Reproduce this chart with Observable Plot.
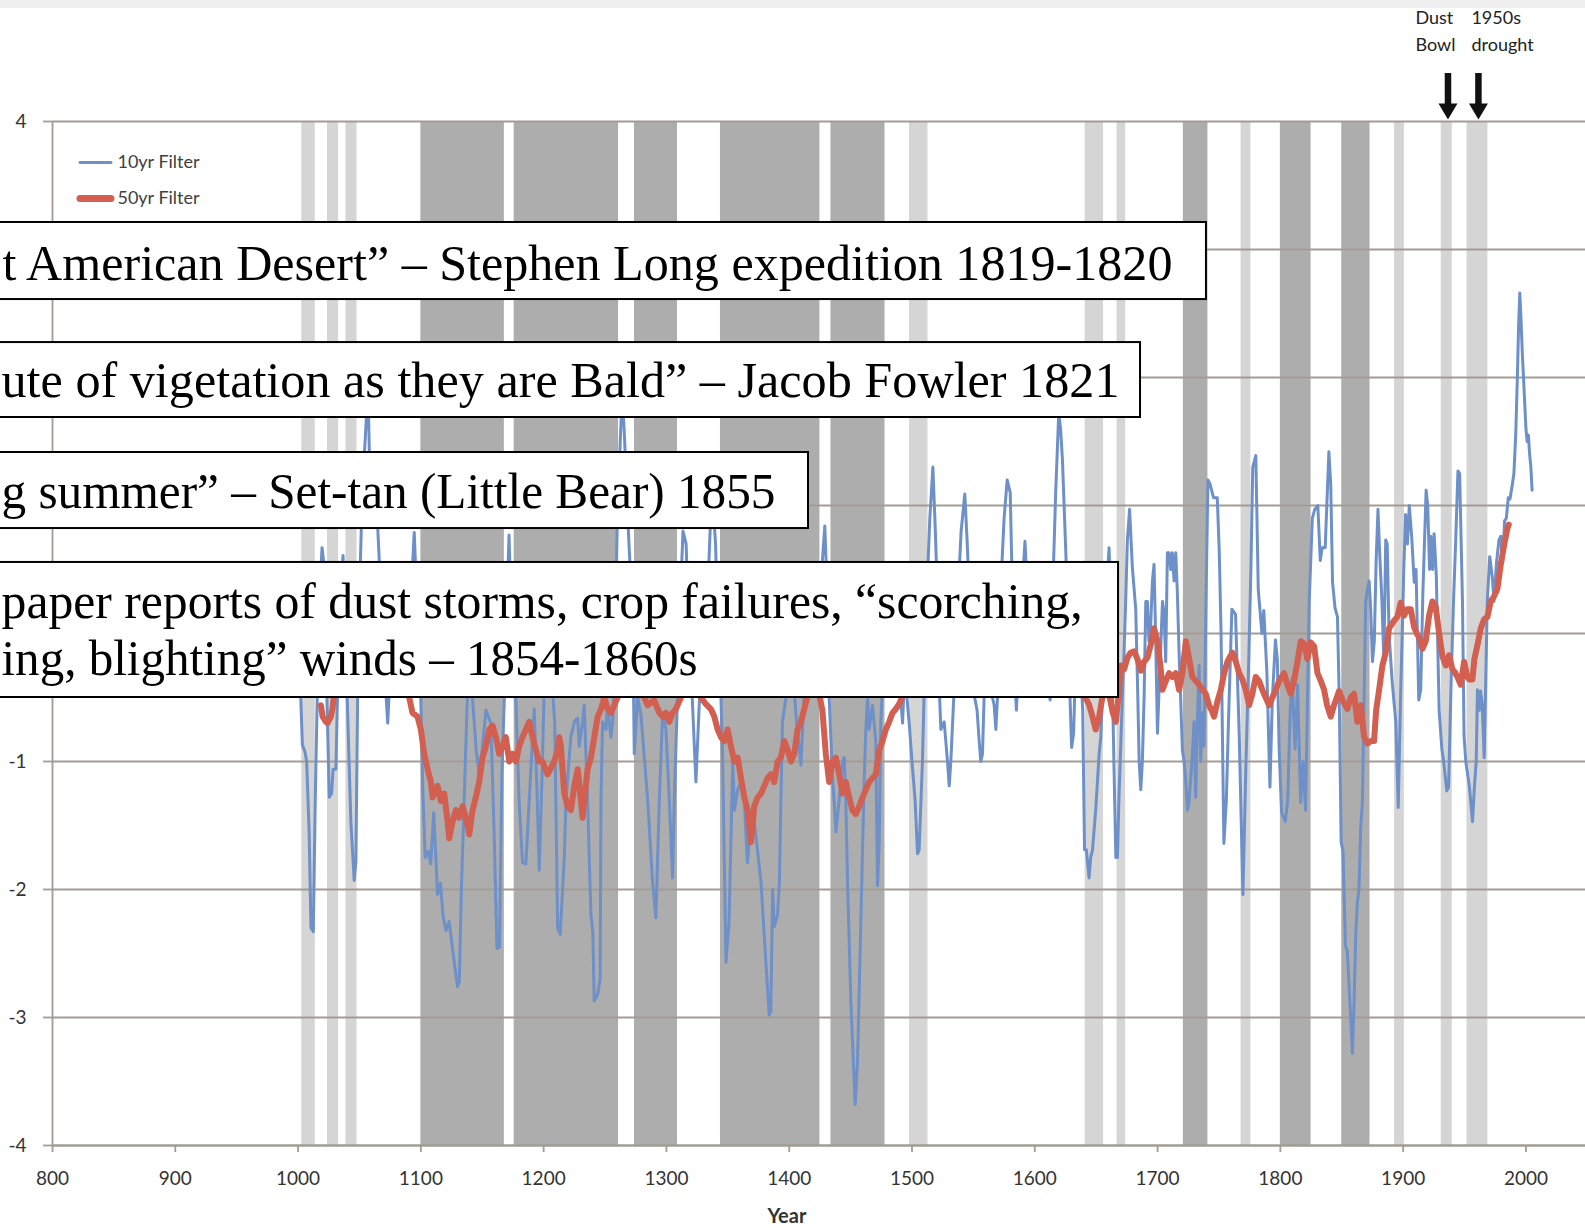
<!DOCTYPE html>
<html>
<head>
<meta charset="utf-8">
<script src="https://cdn.jsdelivr.net/npm/d3@7"></script>
<script src="https://cdn.jsdelivr.net/npm/@observablehq/plot@0.6"></script>
<style>
html, body { margin: 0; padding: 0; background: #fff; overflow: hidden; }
#wrap { position: relative; width: 1585px; height: 1228px; overflow: hidden; background: #fff; }
#topstrip { position: absolute; left: 0; top: 0; width: 1585px; height: 8px; background: #efefef; }
#wrap svg { display: block; }
</style>
</head>
<body>
<div id="wrap"><div id="chart"></div><div id="topstrip"></div></div>
<script>
// ---------------- data ----------------
const filter10yr = [
[1000,0.3],[1002,-0.45],[1003.5,-0.87],[1005.5,-0.92],[1007,-1.0],[1009,-1.55],[1010.5,-2.3],[1012.4,-2.33],[1014,-1.3],[1016,-0.3],[1018,0.4],[1019.5,0.67],[1021,0.55],[1023,-0.3],[1025.4,-1.28],[1027.3,-1.25],[1028.5,-1.06],[1030.8,-1.06],[1032.5,-0.3],[1034.5,0.3],[1036.6,0.61],[1038,0.2],[1040.3,-0.6],[1043,-1.47],[1045.7,-1.93],[1047.1,-1.78],[1048.5,-0.5],[1050,0.3],[1052,1.0],[1054,1.4],[1056,1.75],[1057,1.9],[1058.5,1.2],[1060,0.9],[1062,1.2],[1064,1.0],[1066,0.6],[1068,0.0],[1070.5,-0.3],[1073,-0.7],[1075,-0.3],[1078,0.3],[1081,0.1],[1084,-0.2],[1087,0.2],[1090,0.0],[1092.5,0.4],[1094.6,0.79],[1097,0.2],[1099.5,-0.3],
[1101.5,-1.2],[1103.5,-1.75],[1106,-1.7],[1108,-1.8],[1110.5,-1.4],[1113.6,-2.04],[1116,-1.95],[1118,-2.2],[1120.4,-2.32],[1123,-2.25],[1125,-2.4],[1127.2,-2.57],[1129.9,-2.76],[1131.3,-2.72],[1133,-2.0],[1135.3,-1.3],[1137.5,-0.6],[1140,0.1],[1142,-0.5],[1145,-0.9],[1147.5,-1.1],[1150,-0.9],[1153,-0.6],[1157,-0.7],[1159.5,-1.5],[1162,-2.46],[1164,-2.45],[1166,-1.1],[1168,-0.5],[1170,0.2],[1171.8,0.77],[1173.5,0.2],[1175.5,-0.3],[1177.4,-0.53],[1180,-1.31],[1182.8,-1.79],[1185.5,-1.8],[1189.6,-1.06],[1192.3,-0.59],[1194.5,-1.2],[1196.4,-1.85],[1199,-1.0],
[1201,-0.2],[1204,0.2],[1207,-0.4],[1209,-0.7],[1211.4,-2.3],[1213.5,-2.35],[1216.8,-1.75],[1218.2,-1.3],[1222.2,-0.8],[1223.6,-0.75],[1225,-0.69],[1227.7,-0.66],[1229,-0.88],[1231.7,-0.69],[1233,-0.56],[1235.8,-1.3],[1238.5,-2.2],[1240,-2.32],[1241.2,-2.87],[1244,-2.82],[1246,-2.7],[1246.7,-1.3],[1248,-0.69],[1250.7,-0.75],[1252,-0.56],[1254.8,-0.81],[1256.2,-0.69],[1257.5,-0.4],[1260,0.9],[1262,1.4],[1264,1.9],[1266,1.5],[1268,1.0],[1270,0.6],[1272.4,0.2],[1273.8,-0.94],[1276.5,-0.5],[1279.2,-0.63],[1284.7,-1.3],[1288.7,-1.94],[1291.4,-2.22],[1294.2,-1.3],[1296.9,-0.62],[1299.6,-0.75],
[1302.3,-1.3],[1305,-1.91],[1306.4,-1.3],[1309,-0.5],[1311,0.2],[1313.5,0.8],[1316,0.7],[1318.5,0.0],[1321,-0.5],[1324,-1.16],[1326.7,-0.56],[1329,-0.2],[1331,-0.5],[1333.5,0.3],[1336,0.9],[1338,1.0],[1340,0.7],[1342.5,-0.2],[1344.4,-0.5],[1345.7,-0.94],[1348.5,-2.57],[1351,-2.25],[1354,-1.0],[1355.3,-1.38],[1358,-1.22],[1360.7,-1.16],[1363.4,-1.31],[1366,-1.79],[1367.4,-1.63],[1371.5,-1.47],[1377,-1.94],[1381,-2.57],[1383.7,-2.98],[1385,-2.95],[1386.5,-2.0],[1387.8,-2.29],[1390.5,-2.2],[1392,-1.94],[1393.2,-1.31],[1394.5,-0.69],[1397.3,-0.5],
[1400,0.2],[1403,-0.3],[1406,-0.7],[1409.5,-1.03],[1412,-0.5],[1415,0.1],[1418,0.3],[1421,-0.1],[1424,0.2],[1426.5,0.5],[1429,0.84],[1431,0.3],[1432.5,-0.5],[1435.3,-1.13],[1436.5,-1.3],[1438,-1.55],[1440.7,-1.3],[1443.4,-1.0],[1444.8,-0.97],[1446.1,-1.31],[1447.5,-1.94],[1450.2,-2.88],[1453.7,-3.68],[1455.6,-3.35],[1458.3,-2.26],[1461,-1.16],[1462.4,-0.75],[1463.8,-0.5],[1465,-0.75],[1467.8,-0.56],[1470.5,-0.84],[1471.9,-1.97],[1473.3,-1.63],[1474.6,-0.69],[1476,-0.4],[1478,0.2],[1481,0.4],[1484,0.0],[1487,-0.2],[1490,-0.4],[1492.3,-0.7],[1494,-0.3],[1497.7,-0.7],
[1500,-1.0],[1502.5,-1.3],[1504.5,-1.72],[1505.8,-1.69],[1508.5,-1.0],[1510,-0.4],[1512,0.3],[1514.5,0.9],[1517,1.3],[1519,0.8],[1521,0.2],[1522.5,-0.5],[1523.5,-0.75],[1526.2,-0.69],[1528.9,-1.0],[1530.3,-1.19],[1531.6,-1.0],[1534.5,-0.4],[1537,0.2],[1540,0.8],[1543,1.09],[1545,0.7],[1547,0.2],[1549,-0.3],[1551,-0.5],[1553,-0.6],[1554.7,-0.84],[1556,-1.0],[1557.4,-0.94],[1558.7,-0.5],[1561,0.2],[1563,-0.3],[1565.5,-0.5],[1566.9,-0.56],[1568.3,-0.75],[1569.6,-0.5],[1572,0.3],[1575,0.9],[1577.5,1.2],[1580,1.1],[1581,0.65],[1583,-0.2],[1585,-0.6],[1587,-0.2],[1590,0.4],[1592,0.72],[1594,0.3],[1597,-0.1],
[1600,0.2],[1603,-0.2],[1606,0.1],[1609,-0.3],[1612.5,-0.52],[1614.5,0.3],[1617,1.1],[1619.5,1.72],[1621,1.6],[1622.5,1.36],[1625.5,0.57],[1627,0.0],[1630,-0.89],[1631.6,-0.78],[1633,-0.3],[1635,0.1],[1637,-0.2],[1639,-0.6],[1640.5,-1.69],[1642,-1.69],[1644.2,-1.91],[1645.5,-1.75],[1647,-1.69],[1649.6,-1.38],[1652.4,-0.94],[1653.7,-0.81],[1655,-0.5],[1657.5,0.2],[1660.5,0.67],[1662.5,0.0],[1664,-0.8],[1666,-1.75],[1667.3,-1.75],[1668.5,-1.3],[1670,-0.88],[1671.3,-0.5],[1672.7,-0.15],[1674,0.25],[1675.4,0.73],[1677.2,0.97],[1679.5,0.51],[1682.2,0.19],[1683.6,-0.37],[1685,-1.0],[1686.3,-1.22],[1687.6,-1.0],[1689,-0.5],[1690.4,0.25],[1691.7,0.25],[1693,-0.06],[1694.4,0.07],[1695.8,0.41],[1697.1,0.54],[1698.5,-0.06],[1699.9,-0.78],
[1701.2,-0.44],[1704,0.25],[1705.3,0.16],[1706.6,-0.22],[1708,0.63],[1709.4,0.63],[1710.7,0.5],[1712,0.63],[1713.4,0.41],[1714.8,0.63],[1716.1,0.32],[1717.5,-0.15],[1720.2,-0.91],[1721.6,-1.0],[1723,-1.16],[1724.3,-1.38],[1725.6,-1.32],[1728.4,-0.94],[1729.7,-0.69],[1731,-1.28],[1732.4,-0.69],[1733.8,-0.25],[1735.1,-1.0],[1736.5,-0.62],[1737.8,-0.88],[1739.5,0.3],[1741,1.2],[1742.6,1.17],[1745.6,1.06],[1748.6,1.06],[1750.2,0.65],[1751.7,0.0],[1754,-1.64],[1756,-1.3],[1758,-0.6],[1760.5,0.19],[1763.5,0.15],[1766.5,-0.8],[1769.5,-2.04],[1772,-1.0],[1774,-0.3],[1776,0.5],[1777.5,1.3],[1780,1.39],[1782,0.34],[1785,0.0],[1786.5,0.18],[1789,-0.3],[1791.5,-1.2],[1793.5,-0.5],[1796,-0.05],[1797.5,-0.2],[1799,-0.9],
[1801,-1.4],[1804,-1.47],[1806,-1.3],[1808,-0.6],[1809.5,-0.35],[1812,-0.9],[1814,-0.4],[1816.5,-1.32],[1818.5,-1.0],[1820.5,-1.38],[1823.5,0.25],[1826,0.9],[1828,0.97],[1830.5,1.0],[1832.5,0.57],[1834,0.67],[1836.5,0.67],[1839.5,1.42],[1841,1.17],[1842.5,0.4],[1844.5,0.2],[1846.5,0.13],[1848,-0.53],[1849.5,-1.63],[1851,-1.7],[1853,-2.44],[1854.5,-2.48],[1856,-2.76],[1858.7,-3.28],[1860,-2.88],[1861.4,-2.35],[1862.7,-2.1],[1864,-2.0],[1865.5,-1.5],[1866.8,-1.32],[1868.2,-0.5],[1869.5,0.25],[1871,0.35],[1872.3,0.41],[1873.5,0.2],[1875,-0.22],[1876.5,-0.06],[1878,0.57],[1879.5,0.97],[1881,0.6],[1882.5,0.3],[1884.3,-0.2],[1885.8,0.73],[1887,0.7],[1888.5,0.0],[1891,-0.37],[1894,-0.69],[1896,-1.36],[1898,-0.45],[1899.5,0.1],
[1900.5,0.5],[1902,0.93],[1903.5,0.7],[1905,1.0],[1907,0.75],[1909,0.4],[1910.5,0.5],[1912.7,-0.52],[1914.3,-0.44],[1916,0.3],[1918.7,1.12],[1920,1.0],[1921.5,0.5],[1922.5,0.76],[1924,0.5],[1925.2,0.78],[1927,0.45],[1929.3,-0.6],[1931.5,-0.9],[1933,-1.0],[1935.5,-1.23],[1937,-1.2],[1939,-0.4],[1941,0.25],[1942.8,0.73],[1944.6,1.27],[1946,1.25],[1948.3,0.25],[1949.6,-0.8],[1951,-1.0],[1952.5,-1.1],[1954,-1.2],[1956.5,-1.47],[1958,-1.2],[1959.5,-1.0],[1960.5,-0.44],[1962,-0.6],[1963,-0.45],[1964.4,-0.55],[1966,-0.97],[1967.2,-0.4],[1968.5,0.25],[1970.5,0.6],[1972.5,0.45],[1974,0.25],[1976,0.55],[1978,0.73],[1979.5,0.76],[1981,0.55],[1982.6,0.88],[1984,0.9],[1985.6,1.06],[1987,1.05],[1988.7,1.15],[1990.2,1.25],[1991.7,1.56],[1993,2.0],[1994,2.4],[1995,2.66],[1996,2.45],[1997,2.2],[1998,2.0],[1999,1.8],[2000,1.6],[2001,1.5],[2002,1.55],[2003,1.4],[2004,1.3],[2005,1.12]
];

const filter50yr = [
[1018.6,-0.56],[1020,-0.65],[1022.7,-0.69],[1024,-0.7],[1026.7,-0.65],[1028,-0.59],[1029.5,-0.45],[1033,-0.2],[1038,0.0],[1045,0.1],[1052,0.25],[1060,0.3],[1068,0.2],[1076,0.0],[1084,-0.2],[1090.5,-0.5],[1093.2,-0.62],[1097.3,-0.65],
[1100,-0.75],[1102.7,-0.94],[1105.5,-1.06],[1108.2,-1.16],[1109.5,-1.28],[1111,-1.25],[1113.6,-1.19],[1116.3,-1.31],[1119,-1.25],[1121.8,-1.47],[1123.1,-1.6],[1125.8,-1.47],[1128.5,-1.38],[1131.2,-1.44],[1134,-1.35],[1136.7,-1.44],[1139.4,-1.57],[1142.1,-1.38],[1144.8,-1.28],[1147.5,-1.16],[1150.2,-0.97],[1153,-0.88],[1155.7,-0.75],[1158.4,-0.72],[1161.1,-0.81],[1163.8,-0.94],[1166.5,-0.88],[1169.2,-0.81],[1172,-1.0],[1174.7,-0.94],[1177.4,-1.0],[1180.1,-0.88],[1182.8,-0.81],[1185.5,-0.75],[1188.3,-0.69],[1191,-0.81],[1193.7,-0.91],[1196.4,-1.0],[1199.1,-1.0],
[1201,-1.05],[1203.2,-1.1],[1206,-1.05],[1208.7,-1.0],[1211.4,-0.91],[1212.7,-0.81],[1214,-0.88],[1215.4,-1.06],[1216.8,-1.25],[1219.5,-1.35],[1222.2,-1.38],[1225,-1.19],[1227.7,-1.06],[1230.4,-1.31],[1231.7,-1.44],[1233,-1.31],[1235.8,-1.06],[1238.5,-0.97],[1241.2,-0.81],[1244,-0.65],[1246.7,-0.59],[1249.4,-0.5],[1252.1,-0.59],[1254.8,-0.62],[1257.5,-0.56],[1260.2,-0.5],[1263,-0.45],[1268,-0.3],[1274,-0.35],[1279,-0.45],[1282,-0.5],[1284.7,-0.56],[1290,-0.52],[1294.2,-0.62],[1297,-0.65],[1299.6,-0.62],
[1302.3,-0.69],[1305,-0.62],[1307.7,-0.59],[1311.8,-0.5],[1316,-0.35],[1320,-0.3],[1324,-0.4],[1328,-0.5],[1332,-0.55],[1336.2,-0.59],[1339,-0.65],[1341.7,-0.75],[1344.4,-0.81],[1347.1,-0.84],[1349.8,-0.75],[1352.5,-0.88],[1355.3,-1.0],[1358,-0.97],[1360.7,-1.13],[1363.4,-1.28],[1366.1,-1.38],[1367.4,-1.5],[1368.8,-1.63],[1370.2,-1.5],[1371.5,-1.35],[1374.3,-1.28],[1377,-1.25],[1379.7,-1.19],[1382.4,-1.13],[1385.1,-1.1],[1387.8,-1.16],[1390.5,-1.0],[1393.2,-0.97],[1396,-0.84],[1398.7,-0.91],
[1401.4,-1.0],[1404.1,-0.94],[1406.8,-0.75],[1409.5,-0.69],[1412,-0.6],[1416,-0.45],[1420,-0.4],[1424,-0.45],[1427,-0.6],[1429.8,-0.94],[1432.5,-1.16],[1435.3,-1.0],[1438,-0.97],[1440.7,-1.1],[1443.4,-1.25],[1446.1,-1.16],[1448.8,-1.28],[1451.5,-1.38],[1454.3,-1.41],[1457,-1.35],[1459.7,-1.28],[1462.4,-1.22],[1465.1,-1.16],[1467.8,-1.13],[1470.5,-1.1],[1473.3,-0.91],[1476,-0.84],[1478.7,-0.75],[1481.4,-0.69],[1484.1,-0.62],[1486.8,-0.59],[1489.5,-0.55],[1492.3,-0.49],[1497,-0.35],
[1505,-0.2],[1515,0.0],[1525,0.1],[1535,0.0],[1545,0.15],[1555,0.0],[1565,0.1],[1575,0.2],[1585,0.1],[1595,0.0],[1605,-0.1],[1615,0.05],[1625,-0.1],[1632,-0.3],[1638,-0.45],[1641,-0.5],[1644,-0.55],[1647,-0.65],[1649.6,-0.75],[1652.4,-0.65],[1655,-0.5],[1658,-0.45],[1661,-0.5],[1663.5,-0.62],[1666,-0.69],[1668,-0.5],[1670,-0.25],[1672.7,-0.28],[1675.4,-0.19],[1678,-0.15],[1680.9,-0.14],[1683.6,-0.2],[1686.3,-0.29],[1689,-0.22],[1691.7,-0.19],[1694.4,-0.09],[1697.1,0.04],[1699.9,-0.06],
[1702.6,-0.28],[1704,-0.44],[1706.7,-0.37],[1709.4,-0.31],[1712.1,-0.34],[1714.8,-0.31],[1717.5,-0.44],[1720.2,-0.31],[1723,-0.06],[1725.6,-0.19],[1728.4,-0.34],[1731.1,-0.37],[1733.8,-0.4],[1736.5,-0.44],[1739.2,-0.47],[1741.9,-0.56],[1744,-0.6],[1746,-0.65],[1748.7,-0.53],[1751.5,-0.44],[1754.2,-0.31],[1756.9,-0.22],[1759,-0.18],[1761,-0.15],[1763.7,-0.22],[1766.4,-0.31],[1769.1,-0.36],[1771.8,-0.44],[1774.5,-0.56],[1777.2,-0.47],[1779.9,-0.34],[1782.6,-0.37],[1785.3,-0.44],[1788,-0.5],[1790.8,-0.56],[1793.5,-0.5],[1796.2,-0.44],[1799,-0.37],
[1801.7,-0.33],[1803,-0.31],[1805.7,-0.4],[1808.4,-0.47],[1811.1,-0.37],[1813.9,-0.22],[1816.6,-0.06],[1819.3,-0.08],[1822,-0.2],[1824.7,-0.07],[1827.5,-0.1],[1830.2,-0.31],[1832.9,-0.37],[1835.6,-0.44],[1838,-0.56],[1841,-0.65],[1843.7,-0.56],[1847.8,-0.45],[1851,-0.53],[1854.6,-0.59],[1857.3,-0.5],[1860,-0.47],[1862.7,-0.69],[1865.5,-0.56],[1868.2,-0.81],[1870.9,-0.86],[1873.6,-0.84],[1876.3,-0.84],[1878,-0.6],[1880.4,-0.44],[1883.1,-0.25],[1885.8,-0.15],[1888.5,0.04],[1892.6,0.1],[1895.3,0.13],[1898,0.24],
[1900.7,0.14],[1903.4,0.19],[1906.2,0.19],[1908.9,0.05],[1911,0.0],[1913,-0.03],[1915.7,-0.12],[1918.4,-0.06],[1921.1,0.14],[1923.8,0.25],[1926.5,0.21],[1929.3,0.0],[1932,-0.18],[1934.7,-0.25],[1937.4,-0.17],[1940.1,-0.28],[1942,-0.3],[1944.2,-0.34],[1946.9,-0.4],[1949.6,-0.22],[1952.3,-0.34],[1954,-0.36],[1956.4,-0.36],[1958,-0.2],[1960.5,-0.09],[1963.2,0.04],[1965.9,0.11],[1968.6,0.13],[1971.3,0.25],[1974,0.29],[1976.8,0.35],[1979.5,0.54],[1982.2,0.69],[1984.9,0.82],[1986,0.85]
];

const lightBands = [[1003,1014],[1024,1033],[1039,1048],[1498,1513],[1641,1656],[1667,1674],[1768,1776],[1893,1901],[1931,1940],[1952,1969]];
const darkBands = [[1100,1168],[1176,1261],[1274,1309],[1344,1425],[1434,1478],[1721,1741],[1800,1825],[1850,1873]];

const xTicks = [800,900,1000,1100,1200,1300,1400,1500,1600,1700,1800,1900,2000];
const yTicks = [-4,-3,-2,-1,0,1,2,3,4];
// tick labels that are not hidden behind the quotation boxes
const yTickLabels = [-4,-3,-2,-1,4];
const seriesNames = ["10yr Filter", "50yr Filter"];
const axisTitle = "Year";

const quoteLines = [
  "t American Desert\u201D \u2013 Stephen Long expedition 1819-1820",
  "ute of vigetation as they are Bald\u201D \u2013 Jacob Fowler 1821",
  "g summer\u201D \u2013 Set-tan (Little Bear) 1855",
  "paper reports of dust storms, crop failures, \u201Cscorching,",
  "ing, blighting\u201D winds \u2013 1854-1860s"
];
const eventNames = [["Dust", "Bowl"], ["1950s", "drought"]];
const eventYears = [1936.5, 1961.3];

// ---------------- layout (annotation placement, in data units) ----------------
const gridColor = "#a39b94";
const quoteBoxes = [
  {x1: 740, x2: 1739.8, y1: 2.609, y2: 3.211},
  {x1: 740, x2: 1686.1, y1: 1.6875, y2: 2.273},
  {x1: 740, x2: 1415.7, y1: 0.82, y2: 1.414},
  {x1: 740, x2: 1668.2, y1: -0.5, y2: 0.555}
];
const quoteLayout = [
  {x: 1712.1, y: 2.883, w: 1170},
  {x: 1669.0, y: 1.969, w: 1118},
  {x: 1388.8, y: 1.109, w: 774},
  {x: 1638.9, y: 0.25, w: 1081},
  {x: 1325.3, y: -0.203, w: 696}
];
const quoteData = quoteLines.map((t, i) => ({text: t, ...quoteLayout[i]}));

const eventLabelData = [
  {text: eventNames[0][0], x: 1910.0, y: 4.805},
  {text: eventNames[0][1], x: 1910.0, y: 4.598},
  {text: eventNames[1][0], x: 1955.6, y: 4.805},
  {text: eventNames[1][1], x: 1955.6, y: 4.598}
];

const downTriangle = {
  draw(context) {
    context.moveTo(-9.5, -8);
    context.lineTo(9.5, -8);
    context.lineTo(0, 8);
    context.closePath();
  }
};

const legendData = [
  {name: seriesNames[0], y: 3.68, color: "#6e90c8", w: 3},
  {name: seriesNames[1], y: 3.398, color: "#d25f4f", w: 7}
];

const chart = Plot.plot({
  width: 1585,
  height: 1228,
  marginLeft: 52,
  marginRight: 0,
  marginTop: 121,
  marginBottom: 83,
  x: {type: "linear", domain: [800, 2048.5]},
  y: {type: "linear", domain: [-4, 4]},
  style: {fontFamily: "Lato, 'Open Sans', sans-serif", background: "transparent", color: "#333"},
  marks: [
    Plot.rect(lightBands, {x1: d => d[0], x2: d => d[1], y1: () => -4, y2: () => 4, fill: "#d5d5d5"}),
    Plot.rect(darkBands, {x1: d => d[0], x2: d => d[1], y1: () => -4, y2: () => 4, fill: "#adadad"}),
    Plot.gridY(yTicks, {stroke: gridColor, strokeOpacity: 1, strokeWidth: 1.8}),
    Plot.ruleY([-4], {stroke: gridColor, strokeWidth: 1.8}),
    Plot.ruleX([800], {y1: () => -4, y2: () => 4, stroke: gridColor, strokeWidth: 1.8}),
    Plot.axisY(yTicks, {tickSize: 9, tickPadding: 17, stroke: gridColor, strokeWidth: 1.8, strokeOpacity: 1, fontSize: 19, fill: "#333", tickFormat: d => yTickLabels.includes(d) ? String(d) : "", label: null}),
    Plot.axisX(xTicks, {tickSize: 7, tickPadding: 19, stroke: gridColor, strokeWidth: 1.8, strokeOpacity: 1, fontSize: 19, fill: "#333", tickFormat: d => String(d), label: null}),
    Plot.text([axisTitle], {x: () => 1398.1, y: () => -4, dy: 71, text: d => d, fontSize: 20, fontWeight: "bold", fill: "#333"}),
    Plot.line(filter10yr, {x: d => d[0], y: d => d[1], stroke: "#6e90c8", strokeWidth: 3, strokeLinejoin: "round"}),
    Plot.line(filter50yr, {x: d => d[0], y: d => d[1], stroke: "#d25f4f", strokeWidth: 6, strokeLinejoin: "round"}),
    // legend
    Plot.ruleY(legendData, {y: "y", x1: () => 822.8, x2: () => 848, stroke: "color", strokeWidth: "w", strokeLinecap: "round"}),
    Plot.text(legendData, {x: () => 852.9, y: "y", text: "name", textAnchor: "start", fontSize: 18, fill: "#404040"}),
    // quote boxes
    Plot.rect(quoteBoxes, {x1: "x1", x2: "x2", y1: "y1", y2: "y2", fill: "white", stroke: "black", strokeWidth: 2}),
    Plot.text(quoteData, {x: "x", y: "y", text: "text", textAnchor: "end", fontSize: 50, fontFamily: "'Liberation Serif', 'Times New Roman', serif", fill: "black"}),
    // top event labels and arrows
    Plot.text(eventLabelData, {x: "x", y: "y", text: "text", textAnchor: "start", fontSize: 18, fill: "#222"}),
    Plot.ruleX(eventYears, {y1: () => 4.375, y2: () => 4.11, stroke: "#111", strokeWidth: 6.5}),
    Plot.dot(eventYears, {x: d => d, y: () => 4.0781, symbol: downTriangle, r: 8, fill: "#111", stroke: "none"})
  ]
});

// fit quote lines to their measured widths
d3.select(chart).selectAll("text").each(function() {
  const t = this.textContent;
  const q = quoteData.find(d => d.text === t);
  if (q) {
    this.setAttribute("textLength", q.w);
    this.setAttribute("lengthAdjust", "spacingAndGlyphs");
  }
});

document.getElementById("chart").appendChild(chart);
</script>
</body>
</html>
